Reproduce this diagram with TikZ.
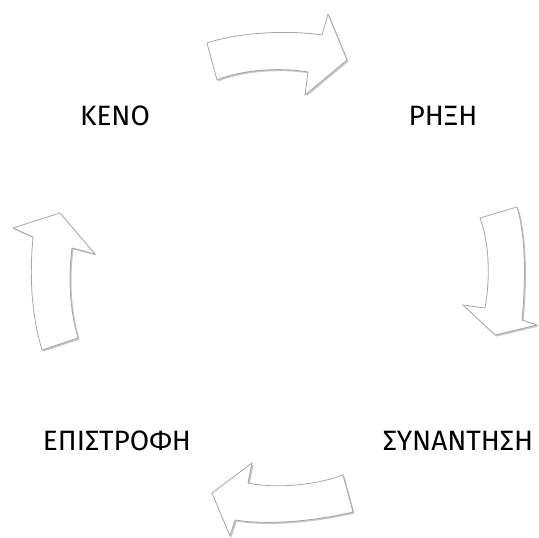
\documentclass[tikz,border=0pt]{standalone}
\usepackage{fontspec}
\setmainfont{Fira Sans}
\tikzset{
    bentarrow/.style={fill=white,draw=gray!70,line width=0.8pt,line join=miter},
    bentshadow/.style={fill=gray!45,draw=none},
    stage/.style={font=\fontsize{28}{30}\selectfont,text=black,inner sep=0pt}
}
\begin{document}
\begin{tikzpicture}[x=1pt,y=-1pt]
\useasboundingbox (0,0) rectangle (539,538);

% stages of the cycle
\node[stage] (keno) at (115,116) {ΚΕΝΟ};
\node[stage] (rixi) at (443,116) {ΡΗΞΗ};
\node[stage] (synantisi) at (458,441) {ΣΥΝΑΝΤΗΣΗ};
\node[stage] (epistrofi) at (117,441) {ΕΠΙΣΤΡΟΦΗ};

% shadows under the arrows
\begin{scope}[shift={(1.5,1.5)}]
\fill[bentshadow] (207,43) .. controls (240,32) and (290,30) .. (322,35) -- (328,14) -- (347,60) -- (305,95) -- (308,72) .. controls (280,67) and (240,70) .. (217,80) -- cycle;
\fill[bentshadow] (480,218) -- (517,207) .. controls (527,240) and (525,290) .. (522,320) -- (537,325) -- (495,335) -- (463,305) -- (485,308) .. controls (490,280) and (490,245) .. (480,218) -- cycle;
\fill[bentshadow] (343,475) .. controls (310,487) and (270,488) .. (248,483) -- (252,463) -- (212,493) -- (230,536) -- (235,520) .. controls (265,525) and (310,522) .. (353,512) -- cycle;
\fill[bentshadow] (42,350) .. controls (30,310) and (30,270) .. (33,237) -- (13,228) -- (60,213) -- (95,254) -- (72,248) .. controls (68,280) and (70,310) .. (78,338) -- cycle;
\end{scope}

% the four bent arrows
\draw[bentarrow] (207,43) .. controls (240,32) and (290,30) .. (322,35) -- (328,14) -- (347,60) -- (305,95) -- (308,72) .. controls (280,67) and (240,70) .. (217,80) -- cycle;
\draw[bentarrow] (480,218) -- (517,207) .. controls (527,240) and (525,290) .. (522,320) -- (537,325) -- (495,335) -- (463,305) -- (485,308) .. controls (490,280) and (490,245) .. (480,218) -- cycle;
\draw[bentarrow] (343,475) .. controls (310,487) and (270,488) .. (248,483) -- (252,463) -- (212,493) -- (230,536) -- (235,520) .. controls (265,525) and (310,522) .. (353,512) -- cycle;
\draw[bentarrow] (42,350) .. controls (30,310) and (30,270) .. (33,237) -- (13,228) -- (60,213) -- (95,254) -- (72,248) .. controls (68,280) and (70,310) .. (78,338) -- cycle;
\end{tikzpicture}
\end{document}
